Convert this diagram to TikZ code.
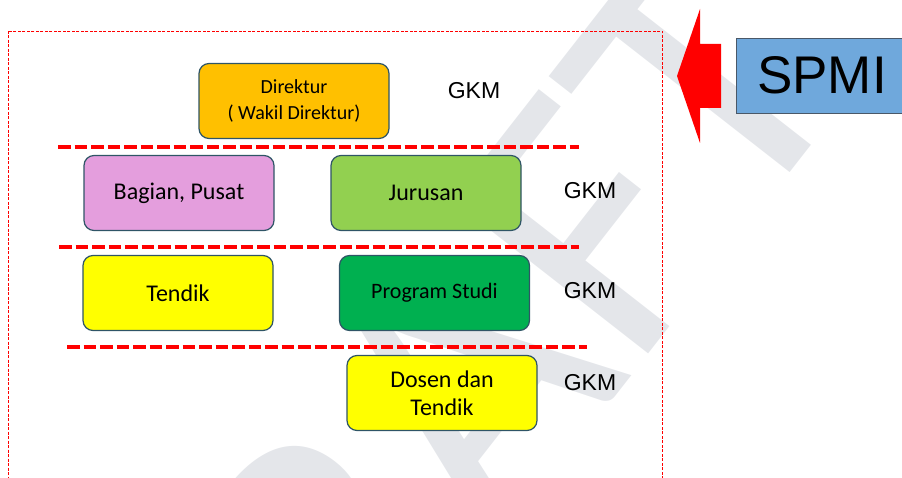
\documentclass[tikz,border=0pt]{standalone}
\usepackage{fontspec}
\setmainfont{Liberation Sans}
\newfontfamily\kastenfont{Carlito}
\definecolor{kastenrand}{HTML}{2F5566}
\definecolor{orange}{HTML}{FFC000}
\definecolor{rosa}{HTML}{E49EDD}
\definecolor{hellgruen}{HTML}{92D050}
\definecolor{gelb}{HTML}{FFFF00}
\definecolor{gruen}{HTML}{00B050}
\definecolor{spmiblau}{HTML}{6FA8DC}
\definecolor{spmirand}{HTML}{4A5868}
\definecolor{pfeilrot}{HTML}{FF0000}
\definecolor{wasser}{HTML}{E4E6EA}
\begin{document}
\begin{tikzpicture}[x=1pt,y=-1pt,
  kasten/.style={draw=kastenrand, line width=1.2pt, rounded corners=10pt,
    minimum width=190pt, minimum height=75pt, align=center,
    font=\kastenfont\fontsize{24}{28}\selectfont},
  gkm/.style={font=\fontsize{23}{26}\selectfont},
  trenner/.style={pfeilrot, line width=4.5pt, dash pattern=on 12.5pt off 4pt}]
  \useasboundingbox (0,0) rectangle (902,478);
  % Wasserzeichen
  \node[anchor=base, rotate=52, text=wasser, inner sep=0pt,
    font=\kastenfont\fontsize{388}{388}\selectfont]
    (wasserzeichen) at (538,495) {DRAFT};
  % Rahmen
  \draw[pfeilrot, line width=0.8pt, dash pattern=on 3pt off 1.5pt]
    (8,31) rectangle (662,495);
  % Trennlinien
  \foreach \xa/\xb/\y in {58/579/147, 59/579/247, 67/587/347}
    \draw[trenner] (\xa,\y) -- (\xb,\y);
  % Direktur
  \node[kasten, fill=orange, font=\kastenfont\fontsize{20}{26}\selectfont]
    (direktur) at (294,101) {Direktur\\( Wakil Direktur)};
  \node[gkm] (gkm1) at (474,91) {GKM};
  % Bagian, Pusat und Jurusan
  \node[kasten, fill=rosa] (bagian) at (179,193) {Bagian, Pusat};
  \node[kasten, fill=hellgruen] (jurusan) at (426,193) {Jurusan};
  % Tendik und Program Studi
  \node[kasten, fill=gelb] (tendik) at (178,293) {Tendik};
  \node[kasten, fill=gruen, font=\kastenfont\fontsize{22}{26}\selectfont]
    (prodi) at (434.5,293) {Program Studi};
  % Dosen dan Tendik
  \node[kasten, fill=gelb] (dosen) at (442,393) {Dosen dan\\Tendik};
  % GKM rechts
  \foreach \name/\y in {gkm2/191, gkm3/291, gkm4/383}
    \node[gkm] (\name) at (590,\y) {GKM};
  % Pfeil
  \fill[pfeilrot] (677,76) -- (700,9) -- (700,44) -- (721,44) -- (721,108)
    -- (700,108) -- (700,143) -- cycle;
  % SPMI
  \node[draw=spmirand, fill=spmiblau, line width=0.8pt, minimum width=172pt,
    minimum height=75pt, font=\fontsize{53}{53}\selectfont]
    (spmi) at (822,75.5) {SPMI};
\end{tikzpicture}
\end{document}
